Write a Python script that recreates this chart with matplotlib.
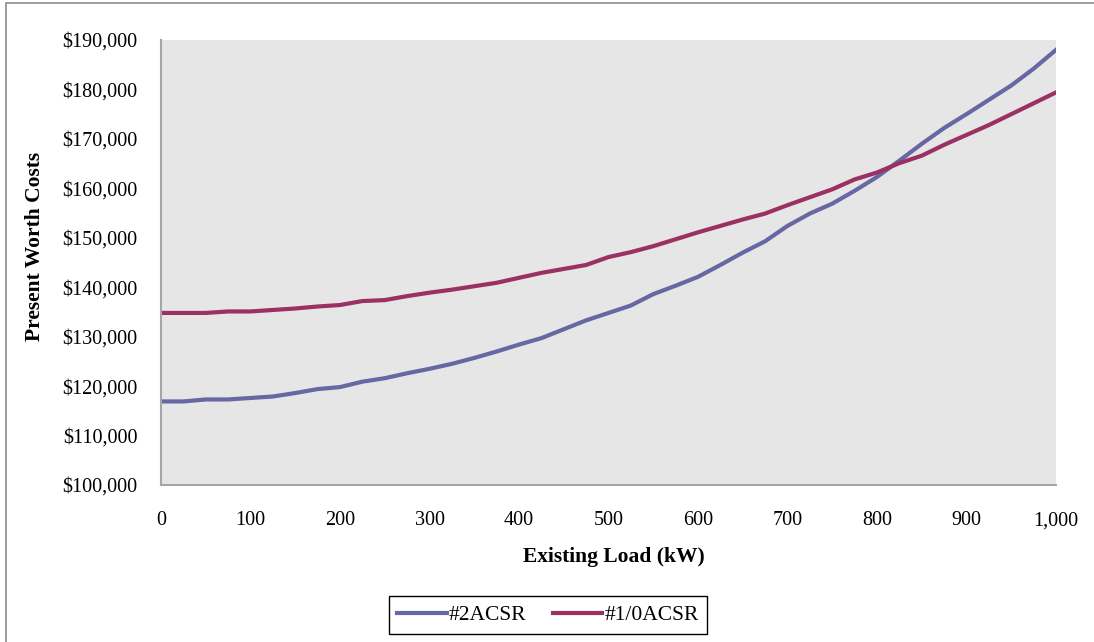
import matplotlib.pyplot as plt
from matplotlib.patches import Rectangle
from matplotlib.ticker import FuncFormatter, MultipleLocator

# Present worth of the two conductor options vs. existing load
load_kw = list(range(0, 1001, 25))
cost_2acsr = [116900, 116900, 117300, 117300, 117600, 117900, 118600, 119400, 119800,
              120900, 121600, 122600, 123500, 124500, 125700, 127000, 128400, 129700,
              131500, 133300, 134800, 136300, 138600, 140300, 142100, 144500, 147000,
              149300, 152400, 154900, 156900, 159500, 162300, 165600, 169000, 172200,
              175000, 177900, 180800, 184200, 188000]
cost_10acsr = [134800, 134800, 134800, 135100, 135100, 135400, 135700, 136100, 136400,
               137200, 137400, 138200, 138900, 139500, 140200, 140900, 141900, 142900,
               143700, 144500, 146100, 147100, 148300, 149700, 151100, 152400, 153700,
               154900, 156600, 158200, 159800, 161800, 163200, 165100, 166600, 168800,
               170800, 172800, 175000, 177200, 179400]
series_names = ["#2ACSR", "#1/0ACSR"]

plt.rcParams['font.family'] = ['Liberation Serif', 'DejaVu Serif']

fig = plt.figure(figsize=(10.94, 6.42), dpi=100)
ax = fig.add_axes([161 / 1094, 1 - 485 / 642, 895 / 1094, 445 / 642])

# outer chart border
fig.patches.append(Rectangle((6 / 1094, -0.05), 1.1, 1 - 3 / 642 + 0.05,
                             transform=fig.transFigure, fill=False,
                             edgecolor='#8c8c8c', linewidth=1.2))

ax.set_facecolor('#e6e6e6')
ax.plot(load_kw, cost_2acsr, color='#6767a3', lw=3, label=series_names[0])
ax.plot(load_kw, cost_10acsr, color='#9b3062', lw=3, label=series_names[1])

ax.set_xlim(0, 1000)
ax.set_ylim(100000, 190000)
ax.xaxis.set_major_locator(MultipleLocator(100))
ax.yaxis.set_major_locator(MultipleLocator(10000))
ax.xaxis.set_major_formatter(FuncFormatter(lambda v, p: f"{int(v):,}"))
ax.yaxis.set_major_formatter(FuncFormatter(lambda v, p: f"${int(v):,}"))
ax.tick_params(length=0, labelsize=14.5)
ax.tick_params(axis='y', pad=17)
ax.tick_params(axis='x', pad=19)

for side in ['top', 'right']:
    ax.spines[side].set_visible(False)
for side in ['left', 'bottom']:
    ax.spines[side].set_color('#a6a6a6')
    ax.spines[side].set_linewidth(1.5)

ax.set_xlabel("Existing Load (kW)", fontsize=15.5, fontweight='bold', va='center')
ax.set_ylabel("Present Worth Costs", fontsize=15.5, fontweight='bold', va='center')
ax.xaxis.set_label_coords(0.506, -0.162)
ax.yaxis.set_label_coords(-0.141, 0.537)

fig.legend(loc='center', bbox_to_anchor=(548 / 1094, 1 - 615 / 642), ncol=2,
           fontsize=15.5, frameon=True, fancybox=False, edgecolor='black',
           framealpha=1, handlelength=2.3, handletextpad=0.1, columnspacing=1.2,
           borderpad=0.4)

plt.savefig("out.png", dpi=100)
